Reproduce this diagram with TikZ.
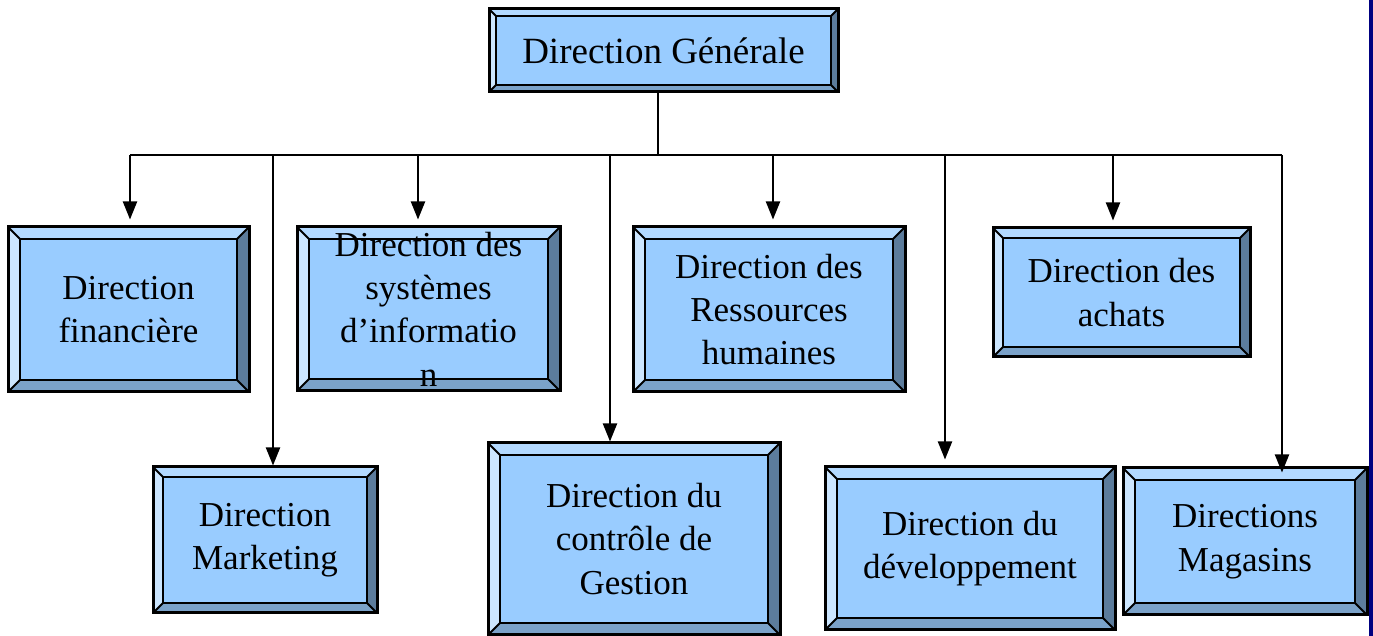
\documentclass[tikz,border=0pt]{standalone}
\usepackage{fontspec}
\setmainfont{Liberation Serif}
\usetikzlibrary{arrows.meta}
\definecolor{boxface}{HTML}{99CCFF}
\definecolor{bevtop}{HTML}{B3D9FF}
\definecolor{bevleft}{HTML}{CCE6FF}
\definecolor{bevright}{HTML}{5C7C9C}
\definecolor{bevbot}{HTML}{7BA2C9}
\definecolor{edgestrip}{HTML}{000080}
\newcommand{\bev}{6pt}
\tikzset{bevw/.code={\renewcommand{\bev}{#1}},
dirbox/.style={rectangle,draw=black,line width=1.5pt,fill=boxface,inner sep=0pt,
align=center,font=\fontsize{17.5}{21.7}\selectfont,
path picture={
  \path (path picture bounding box.north west) coordinate (pnw)
        (path picture bounding box.north east) coordinate (pne)
        (path picture bounding box.south west) coordinate (psw)
        (path picture bounding box.south east) coordinate (pse);
  \path ([shift={(\bev,-\bev)}]pnw) coordinate (qnw)
        ([shift={(-\bev,-\bev)}]pne) coordinate (qne)
        ([shift={(\bev,\bev)}]psw) coordinate (qsw)
        ([shift={(-\bev,\bev)}]pse) coordinate (qse);
  \fill [bevtop] (pnw) -- (pne) -- (qne) -- (qnw) -- cycle;
  \fill [bevleft] (pnw) -- (qnw) -- (qsw) -- (psw) -- cycle;
  \fill [bevright] (pne) -- (pse) -- (qse) -- (qne) -- cycle;
  \fill [bevbot] (psw) -- (pse) -- (qse) -- (qsw) -- cycle;
  \draw [line width=1.2pt] (qnw) rectangle (qse);
  \draw [line width=0.9pt] (pnw) -- (qnw) (pne) -- (qne) (psw) -- (qsw) (pse) -- (qse);
}},
topbox/.style={dirbox,bevw=3.5pt,font=\fontsize{18.5}{22}\selectfont},
link/.style={draw=black,line width=1pt},
->/.style={link,-{Triangle[width=7pt,length=9pt]}}}

\begin{document}
\begin{tikzpicture}[x=0.5pt,y=-0.5pt]
  \useasboundingbox (0,0) rectangle (1373,636);
  \fill [edgestrip] (1369,0) rectangle (1373,636);

  \node (dg) [topbox,minimum width=174.5pt,minimum height=41.5pt] at (663.5,50.5) {Direction Générale};

  \node (fin) [dirbox,minimum width=120.5pt,minimum height=82.5pt] at (128.5,309.5) {Direction\\financière};
  \node (si) [dirbox,minimum width=131.5pt,minimum height=82pt] at (428.5,309) {Direction des\\systèmes\\d’informatio\\n};
  \node (rh) [dirbox,minimum width=136pt,minimum height=82.5pt] at (769,309.5) {Direction des\\Ressources\\humaines};
  \node (ach) [dirbox,bevw=5pt,minimum width=128.5pt,minimum height=64.5pt] at (1121.5,292.5) {Direction des\\achats};

  \node (mkt) [dirbox,bevw=5pt,minimum width=112pt,minimum height=73pt] at (265,540) {Direction\\Marketing};
  \node (cdg) [dirbox,minimum width=146pt,minimum height=96pt] at (634,539) {Direction du\\contrôle de\\Gestion};
  \node (dev) [dirbox,minimum width=145pt,minimum height=81.5pt] at (970,548.5) {Direction du\\développement};
  \node (mag) [dirbox,minimum width=122pt,minimum height=73.5pt] at (1245,541.5) {Directions\\Magasins};

  % bus
  \coordinate (trunk) at (658,155);
  \coordinate (dfin) at (130,155);
  \coordinate (dmkt) at (273,155);
  \coordinate (dsi) at (418,155);
  \coordinate (dcdg) at (610,155);
  \coordinate (drh) at (773,155);
  \coordinate (ddev) at (945,155);
  \coordinate (dach) at (1113,155);
  \coordinate (dmag) at (1282,155);
  \draw [link] (dg.south -| trunk) -- (trunk);
  \draw [link] (dfin) -- (dmag);

  \draw [->] (dfin) -- ([yshift=3pt]dfin |- fin.north);
  \draw [->] (dmkt) -- (dmkt |- mkt.north);
  \draw [->] (dsi) -- ([yshift=3pt]dsi |- si.north);
  \draw [->] (dcdg) -- (dcdg |- cdg.north);
  \draw [->] (drh) -- ([yshift=3pt]drh |- rh.north);
  \draw [->] (ddev) -- ([yshift=3pt]ddev |- dev.north);
  \draw [->] (dach) -- ([yshift=3pt]dach |- ach.north);
  \draw [->] (dmag) -- ([yshift=-3pt]dmag |- mag.north);
\end{tikzpicture}
\end{document}
